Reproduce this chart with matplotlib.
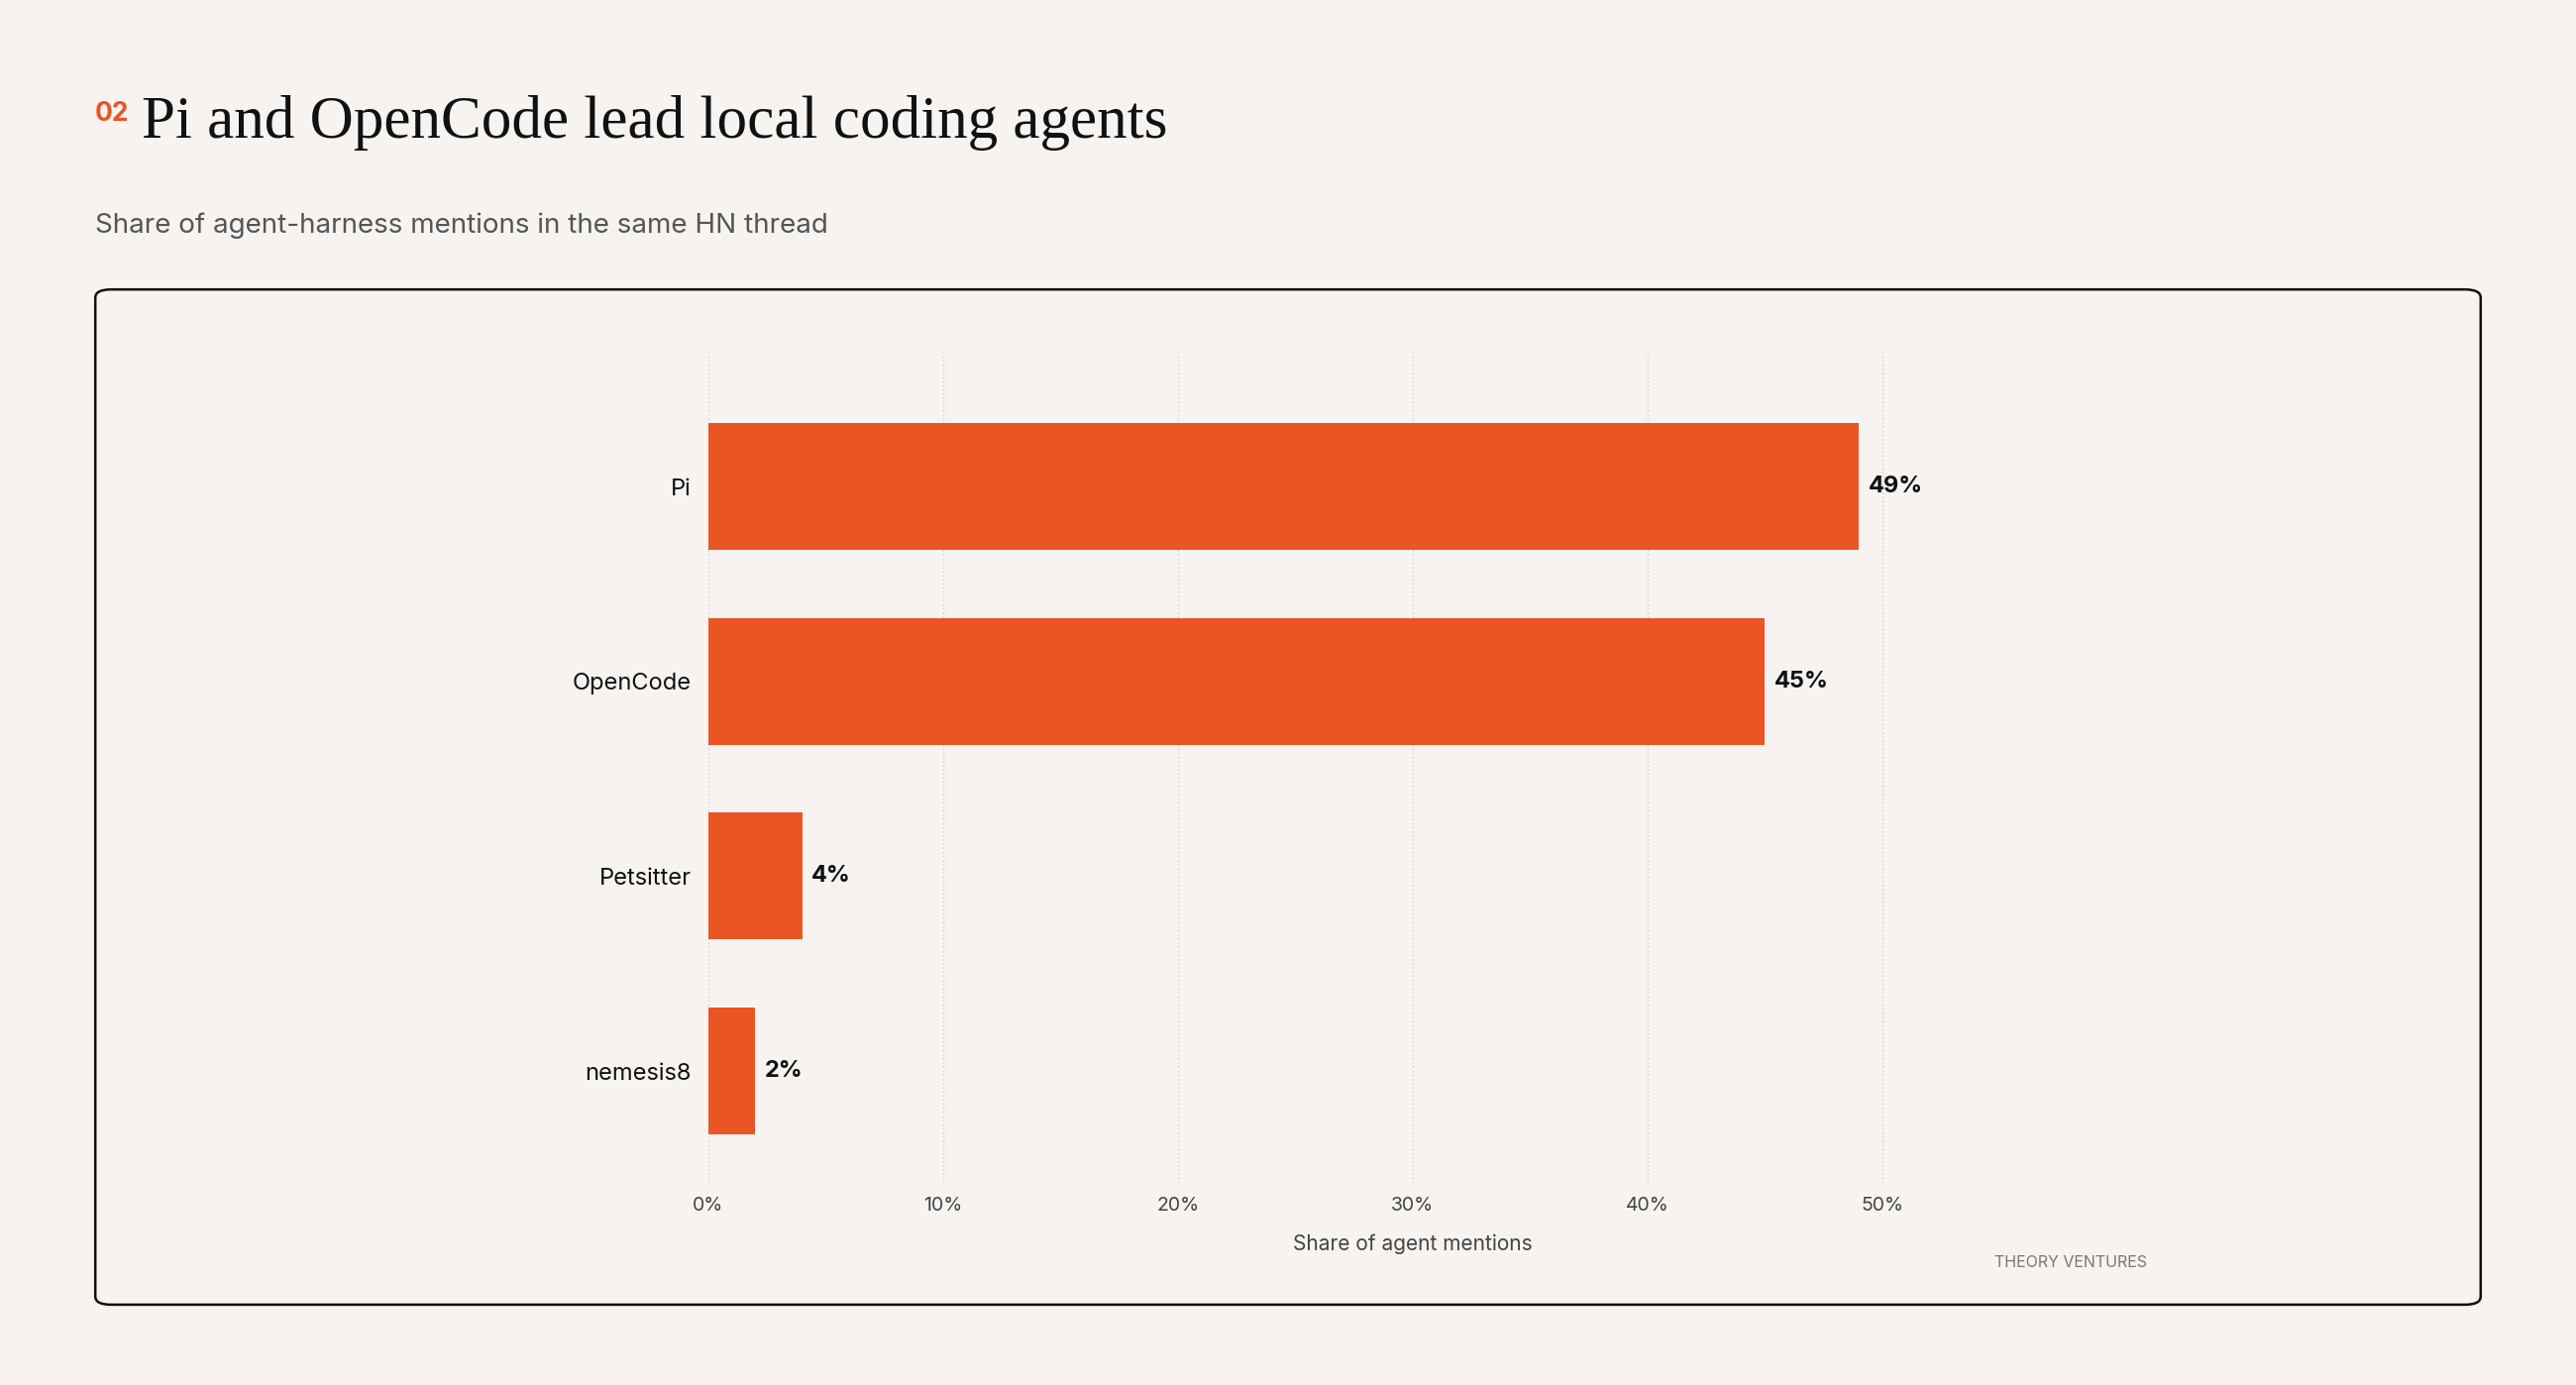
import matplotlib
matplotlib.use("Agg")
import matplotlib.pyplot as plt
from matplotlib.patches import FancyBboxPatch

categories = ["Pi", "OpenCode", "Petsitter", "nemesis8"]
shares = [49, 45, 4, 2]
xticks = [0, 10, 20, 30, 40, 50]

BG = "#F6F3F0"
ORANGE = "#EA5524"
SANS = ["Inter", "DejaVu Sans"]

fig = plt.figure(figsize=(26, 13.98), dpi=100, facecolor=BG)

# header
fig.text(0.037, 0.918, "02", color=ORANGE, fontsize=19, fontweight="bold", family=SANS, va="center")
fig.text(0.055, 0.911, "Pi and OpenCode lead local coding agents", fontsize=44,
         family=["Liberation Serif", "DejaVu Serif"], color="#111111", va="center")
fig.text(0.037, 0.837, "Share of agent-harness mentions in the same HN thread",
         fontsize=20, family=SANS, color="#555555", va="center")

# outer card
fig.patches.append(FancyBboxPatch((0.037, 0.058), 0.926, 0.733,
                                  boxstyle="round,pad=0,rounding_size=0.006",
                                  transform=fig.transFigure, fill=False,
                                  edgecolor="#111111", linewidth=1.8))

ax = fig.add_axes([0.2749, 0.146, 0.547, 0.599])
ax.set_facecolor("none")
ypos = list(range(len(categories)))
ax.barh(ypos, shares, height=0.65, color=ORANGE, zorder=3)
for y, v in zip(ypos, shares):
    ax.text(v + 0.4, y, f"{v}%", va="center", ha="left", fontsize=17,
            fontweight="bold", family=SANS, color="#111111")

ax.set_xlim(0, 60)
ax.set_ylim(3.574, -0.684)
ax.set_xticks(xticks)
ax.set_xticklabels([f"{t}%" for t in xticks], family=SANS, fontsize=14, color="#444444")
ax.set_yticks(ypos)
ax.set_yticklabels(categories, family=SANS, fontsize=17, color="#111111")
ax.tick_params(length=0, pad=12)
ax.tick_params(axis="x", pad=10)
ax.grid(axis="x", linestyle=(0, (1, 2)), color="#CCCCCC", linewidth=1, zorder=0)
for s in ax.spines.values():
    s.set_visible(False)
ax.set_xlabel("Share of agent mentions", family=SANS, fontsize=15, color="#444444", labelpad=14)

fig.text(0.804, 0.088, "THEORY VENTURES", family=SANS, fontsize=11.5, color="#777777",
         ha="center", va="center")

fig.savefig("out.png", dpi=100, facecolor=BG)
